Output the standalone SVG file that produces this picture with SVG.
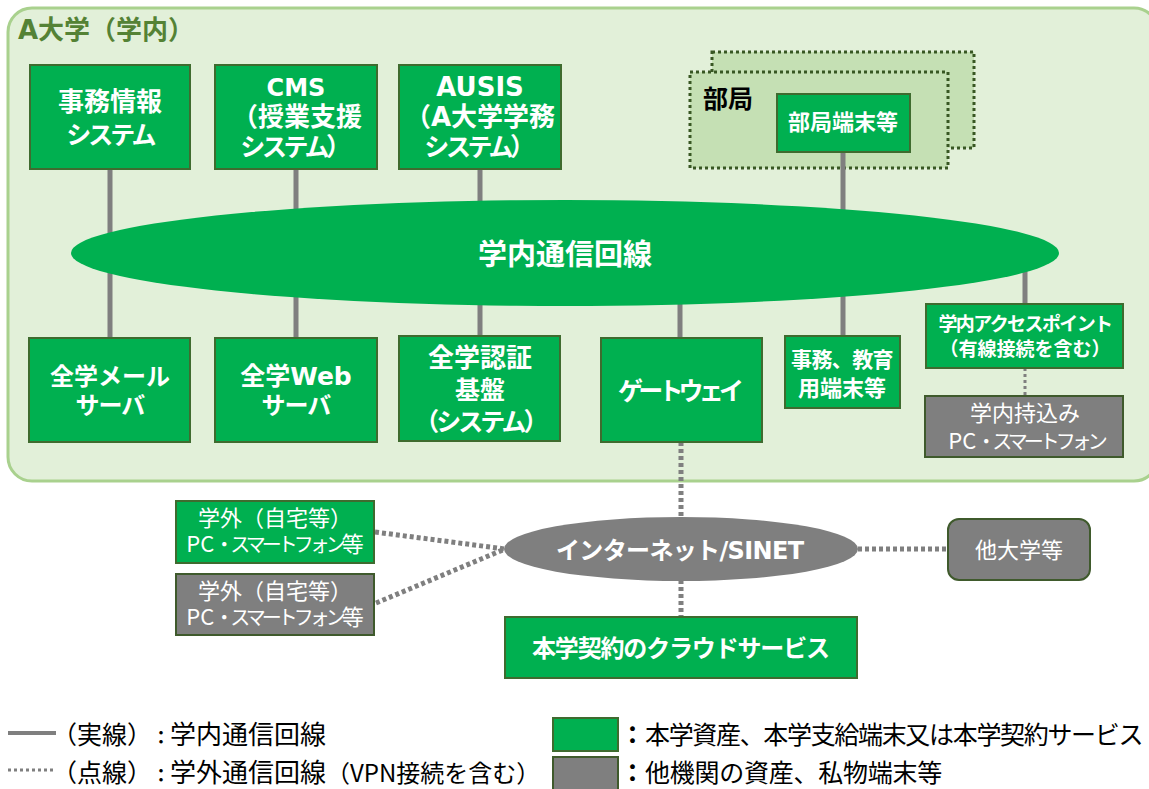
<svg xmlns="http://www.w3.org/2000/svg" width="1149" height="789" viewBox="0 0 1149 789">
<style>
text{font-family:"Noto Sans CJK JP","Noto Sans",sans-serif;text-anchor:middle;fill:#fff}
.b{font-weight:700}
.l{font-family:"DejaVu Sans","Noto Sans CJK JP",sans-serif}
.g{fill:#00b050;stroke:#3f6b2f;stroke-width:2}
.y{fill:#7f7f7f;stroke:#3f5a2c;stroke-width:2}
.s{stroke:#7f7f7f;stroke-width:5;fill:none}
.d{stroke:#7f7f7f;stroke-width:5;fill:none;stroke-dasharray:4 3}
.p{fill:#c5e0b4;stroke:#385723;stroke-width:3;stroke-dasharray:3 3}
.k{fill:#000;text-anchor:start;font-size:25px}
.t{font-size:25px}
.u{font-size:26px}
.m{font-size:22px}
.z{font-size:20px;letter-spacing:-4px}
</style>
<rect id="campus" x="8" y="8" width="1150" height="473" rx="24" fill="#e2f0d9" stroke="#a9d18e" stroke-width="3"/>
<text class="b l" x="18" y="39" font-size="26" style="fill:#548235;text-anchor:start" textLength="176">A大学（学内）</text>
<g id="busyo-back"><rect class="p" x="712" y="52" width="262" height="96"/></g>
<g id="busyo"><rect class="p" x="690" y="72" width="258" height="96"/><text class="b" x="703" y="108" font-size="25" style="fill:#000;text-anchor:start">部局</text></g>
<g id="connectors">
<path class="s" d="M110 170V340M296 170V340M480 170V340M680 300V340M843 150V338M1025 270V306"/>
<path class="d" style="stroke-width:3;stroke-dasharray:3 3" d="M1025 368V396"/>
<path class="d" d="M681 442V520M681 580V618M375 532L505 549M376 603L505 549M858 549H948"/>
<path class="s" style="stroke-width:4" d="M8 733H56"/>
<path class="d" style="stroke-width:3;stroke-dasharray:3 3" d="M8 770H56"/>
</g>
<g id="n1"><rect class="g" x="30" y="65" width="160" height="104"/><text class="b"><tspan class="u" x="110" y="111">事務情報</tspan><tspan class="t" x="110" y="144" style="letter-spacing:-3px">システム</tspan></text></g>
<g id="n2"><rect class="g" x="215" y="65" width="162" height="104"/><text class="b"><tspan class="l" font-size="24" x="296" y="96">CMS</tspan><tspan class="u" x="297" y="126">（授業支援</tspan><tspan class="t" x="294" y="156" style="letter-spacing:-3.4px">システム）</tspan></text></g>
<g id="n3"><rect class="g" x="399" y="65" width="162" height="104"/><text class="b"><tspan class="l" font-size="26" x="480" y="96">AUSIS</tspan><tspan class="u l" x="480" y="126">（A大学学務</tspan><tspan class="t" x="478" y="156" style="letter-spacing:-3.4px">システム）</tspan></text></g>
<g id="n4"><rect class="g" x="777" y="94" width="133" height="58"/><text class="b m" x="843" y="130">部局端末等</text></g>
<g id="ring"><ellipse cx="565" cy="253" rx="494" ry="53" fill="#00b050"/><text class="b" x="565" y="265" font-size="29">学内通信回線</text></g>
<g id="n5"><rect class="g" x="29" y="338" width="161" height="104"/><text class="b" font-size="24"><tspan x="110" y="385">全学メール</tspan><tspan x="110" y="414" style="letter-spacing:-1px">サーバ</tspan></text></g>
<g id="n6"><rect class="g" x="215" y="338" width="162" height="104"/><text class="b t"><tspan class="l" x="296" y="385">全学Web</tspan><tspan x="296" y="414" font-size="24" style="letter-spacing:-1px">サーバ</tspan></text></g>
<g id="n7"><rect class="g" x="399" y="336" width="161" height="105"/><text class="b"><tspan class="u" x="480" y="367">全学認証</tspan><tspan class="t" x="480" y="399">基盤</tspan><tspan class="t" x="480" y="431" style="letter-spacing:-3px">（システム）</tspan></text></g>
<g id="n8"><rect class="g" x="601" y="338" width="161" height="104"/><text class="b t" x="681" y="400" textLength="126">ゲートウェイ</text></g>
<g id="n9"><rect class="g" x="785" y="336" width="115" height="72"/><text class="b"><tspan font-size="21" x="842" y="367" style="letter-spacing:-.6px">事務、教育</tspan><tspan class="m" x="842" y="396">用端末等</tspan></text></g>
<g id="n10"><rect class="g" x="926" y="304" width="197" height="64"/><text class="b" font-size="19"><tspan x="1025" y="331" style="letter-spacing:-1.6px">学内アクセスポイント</tspan><tspan x="1025" y="356">（有線接続を含む）</tspan></text></g>
<g id="n11"><rect class="y" x="925" y="396" width="198" height="61"/><text class="m"><tspan x="1025" y="421">学内持込み</tspan><tspan x="1026" y="449">PC<tspan class="z">・スマートフォン</tspan></tspan></text></g>
<g id="n12"><rect class="g" x="176" y="501" width="198" height="62"/><text class="m"><tspan x="275" y="526">学外（自宅等）</tspan><tspan x="275" y="552">PC<tspan class="z">・スマートフォン</tspan>等</tspan></text></g>
<g id="n13"><rect class="y" x="176" y="574" width="198" height="61"/><text class="m"><tspan x="275" y="599">学外（自宅等）</tspan><tspan x="275" y="625">PC<tspan class="z">・スマートフォン</tspan>等</tspan></text></g>
<g id="net"><ellipse cx="681" cy="549" rx="177" ry="32" fill="#7f7f7f"/><text class="b l" font-size="24" x="680" y="559" textLength="248">インターネット/SINET</text></g>
<g id="n14"><rect x="948" y="519" width="142" height="61" rx="11" fill="#7f7f7f" stroke="#3f5a2c" stroke-width="2"/><text class="m" x="1019" y="558">他大学等</text></g>
<g id="n15"><rect class="g" x="505" y="617" width="352" height="61"/><text class="b" font-size="24" x="681" y="657" textLength="298">本学契約のクラウドサービス</text></g>
<g id="legend">
<text class="k" y="744"><tspan x="52">（実線）</tspan><tspan x="152" font-size="18" font-weight="700">：</tspan><tspan x="170" font-size="26">学内通信回線</tspan></text>
<text class="k" y="782"><tspan x="52">（点線）</tspan><tspan x="152" font-size="18" font-weight="700">：</tspan><tspan x="170" font-size="26">学外通信回線</tspan><tspan x="326" font-size="24">（VPN接続を含む）</tspan></text>
<rect class="g" x="553" y="718" width="65" height="33"/>
<rect class="y" x="553" y="757" width="65" height="33"/>
<text class="k" y="744"><tspan x="620" font-weight="700">：</tspan><tspan x="645" style="letter-spacing:-1.33px">本学資産、本学支給端末又は本学契約サービス</tspan></text>
<text class="k" y="782"><tspan x="620" font-weight="700">：</tspan><tspan x="645" style="letter-spacing:-.25px">他機関の資産、私物端末等</tspan></text>
</g>
</svg>
